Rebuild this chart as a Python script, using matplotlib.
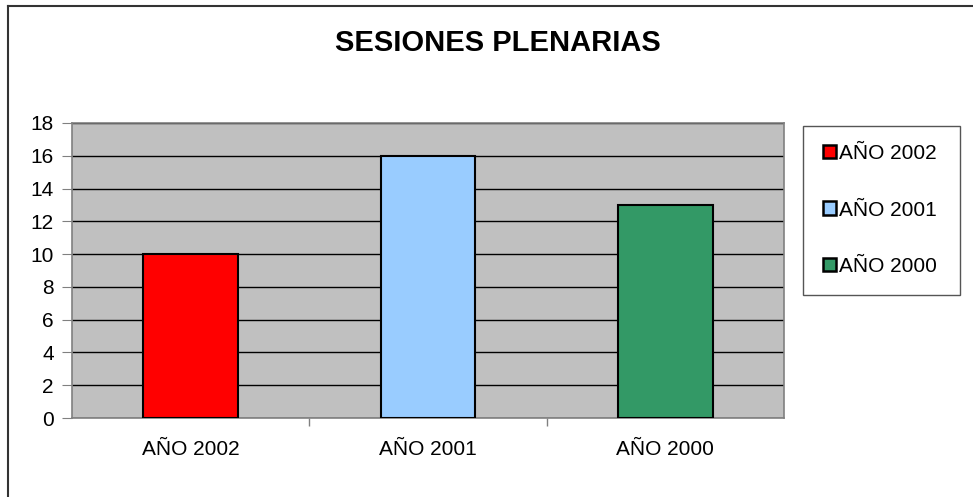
import matplotlib
matplotlib.use("Agg")
import matplotlib.pyplot as plt
from matplotlib.patches import Patch, Rectangle
from matplotlib.lines import Line2D

plt.rcParams['font.family'] = ['Liberation Sans', 'DejaVu Sans']

categories = ["AÑO 2002", "AÑO 2001", "AÑO 2000"]
values = [10, 16, 13]
colors = ["#FF0000", "#99CCFF", "#339966"]
title = "SESIONES PLENARIAS"
yticks = list(range(0, 19, 2))

W, H = 973, 497
fig = plt.figure(figsize=(W / 100, H / 100), dpi=100)

# outer border (top and left edges visible)
fig.add_artist(Line2D([8 / W, 1.0], [1 - 6 / H, 1 - 6 / H], transform=fig.transFigure,
                      color="#333333", lw=1.5))
fig.add_artist(Line2D([8 / W, 8 / W], [0.0, 1 - 6 / H], transform=fig.transFigure,
                      color="#333333", lw=1.5))

ax = fig.add_axes([72 / W, 1 - 418 / H, (784 - 72) / W, (418 - 123) / H])
ax.set_facecolor("#C0C0C0")
x = list(range(len(categories)))
ax.bar(x, values, width=0.4, color=colors, edgecolor="black", linewidth=1.5, zorder=3)
ax.set_xlim(-0.5, len(categories) - 0.5)
ax.set_ylim(0, 18)
ax.set_yticks(yticks)
ax.yaxis.grid(True, color="black", lw=1, zorder=1)
ax.set_axisbelow(True)
ax.set_xticks([i + 0.5 for i in range(len(categories) - 1)], minor=False)
ax.set_xticklabels([])
ax.set_xticks(x, minor=True)
ax.set_xticklabels(categories, minor=True, fontsize=15)
ax.tick_params(axis="x", which="minor", length=0, pad=16)
ax.tick_params(axis="x", which="major", length=6, color="#808080", width=1)
ax.tick_params(axis="y", length=7, color="#808080", labelsize=15, pad=6)
for s in ax.spines.values():
    s.set_color("#808080")
    s.set_linewidth(1.2)

fig.text(498 / W, 1 - 43 / H, title, ha="center", va="center",
         fontsize=21, fontweight="bold")

# legend frame
fig.add_artist(Rectangle((803 / W, 1 - 295 / H), (960 - 803) / W, (295 - 126) / H,
                         transform=fig.transFigure, facecolor="white",
                         edgecolor="#555555", lw=1))
handles = [Patch(facecolor=c, edgecolor="black", linewidth=1.8) for c in colors]
leg = fig.legend(handles, categories, loc="center left",
                 bbox_to_anchor=(823 / W, 1 - 210 / H), bbox_transform=fig.transFigure,
                 frameon=False, fontsize=15, handlelength=0.62,
                 handleheight=0.62, handletextpad=0.15, labelspacing=1.8,
                 borderpad=0, borderaxespad=0)

fig.savefig("out.png", dpi=100)
